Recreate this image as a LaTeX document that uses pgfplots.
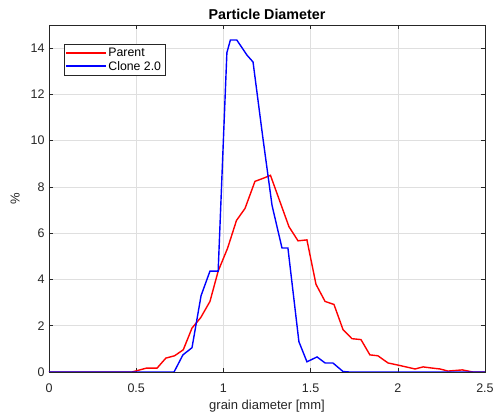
\documentclass[border=0pt]{standalone}
\usepackage{fontspec}
\setmainfont{Liberation Sans}
\usepackage{pgfplots}
\pgfplotsset{compat=1.18}
\definecolor{axgray}{RGB}{38,38,38}
\definecolor{gridgray}{RGB}{223,223,223}
\definecolor{parentred}{RGB}{255,0,0}
\definecolor{cloneblue}{RGB}{0,0,255}
% legend sample: a coloured rule set as text
\pgfplotsset{
  rule legend/.style={
    legend image code/.code={%
      \node[inner sep=0pt, anchor=west] at (0pt,0pt)
        {\textcolor{#1}{\rule[-0.7pt]{40pt}{1.4pt}}};}
  }
}
\begin{document}
\begin{tikzpicture}
\begin{axis}[
  scale only axis, width=436pt, height=347pt,
  xmin=0, xmax=2.5, ymin=0, ymax=15,
  xtick={0,0.5,...,2.5}, ytick={0,2,...,14},
  xticklabels={0,0.5,1,1.5,2,2.5},
  tick align=inside, major tick length=4pt,
  every tick/.style={axgray, line width=0.5pt},
  axis line style={axgray, line width=0.6pt},
  grid=major, major grid style={gridgray, line width=0.5pt},
  ticklabel style={font=\fontsize{12.5}{14}\selectfont, text=axgray},
  xticklabel style={yshift=-8pt},
  yticklabel style={xshift=-1pt},
  /pgf/number format/assume math mode=true,
  title={\bfseries Particle Diameter},
  title style={font=\fontsize{14.3}{16}\selectfont, yshift=-4pt},
  xlabel={grain diameter [mm]}, ylabel={\%},
  label style={font=\fontsize{13}{15}\selectfont, text=axgray},
  xlabel style={yshift=-1pt},
  ylabel style={yshift=4pt},
  legend style={at={(0.035,0.945)}, anchor=north west, draw=axgray,
    font=\fontsize{12.3}{14}\selectfont, inner sep=2pt, row sep=-1pt},
  legend cell align=left,
]
\addplot[parentred, line width=1.4pt, rule legend=parentred] coordinates {
(0,0) (0.476,0) (0.56,0.17) (0.62,0.17) (0.67,0.6) (0.72,0.7) (0.77,0.96)
(0.82,1.9) (0.87,2.35) (0.923,3.05) (0.97,4.36) (1.024,5.35) (1.075,6.55)
(1.124,7.07) (1.181,8.24) (1.227,8.37) (1.27,8.5) (1.324,7.37) (1.376,6.28)
(1.428,5.67) (1.479,5.71) (1.531,3.79) (1.583,3.05) (1.634,2.92) (1.686,1.83)
(1.737,1.44) (1.789,1.4) (1.84,0.74) (1.886,0.7) (1.944,0.39) (2.0,0.3)
(2.047,0.22) (2.099,0.13) (2.145,0.22) (2.196,0.17) (2.242,0.13) (2.288,0.04)
(2.37,0.09) (2.43,0) (2.5,0)
};
\addlegendentry{Parent}
\addplot[cloneblue, line width=1.4pt, rule legend=cloneblue] coordinates {
(0,0) (0.717,0) (0.768,0.74) (0.82,1.05) (0.872,3.3) (0.923,4.36) (0.97,4.36)
(1.02,13.8) (1.04,14.35) (1.077,14.35) (1.135,13.7) (1.17,13.4) (1.225,10.2)
(1.279,7.2) (1.336,5.36) (1.37,5.36) (1.433,1.31) (1.479,0.44) (1.537,0.65)
(1.583,0.39) (1.628,0.39) (1.686,0.02) (1.72,0) (2.5,0)
};
\addlegendentry{Clone 2.0}
\end{axis}
\useasboundingbox (-49pt,-45pt) rectangle (448pt,372pt);
\end{tikzpicture}
\end{document}
